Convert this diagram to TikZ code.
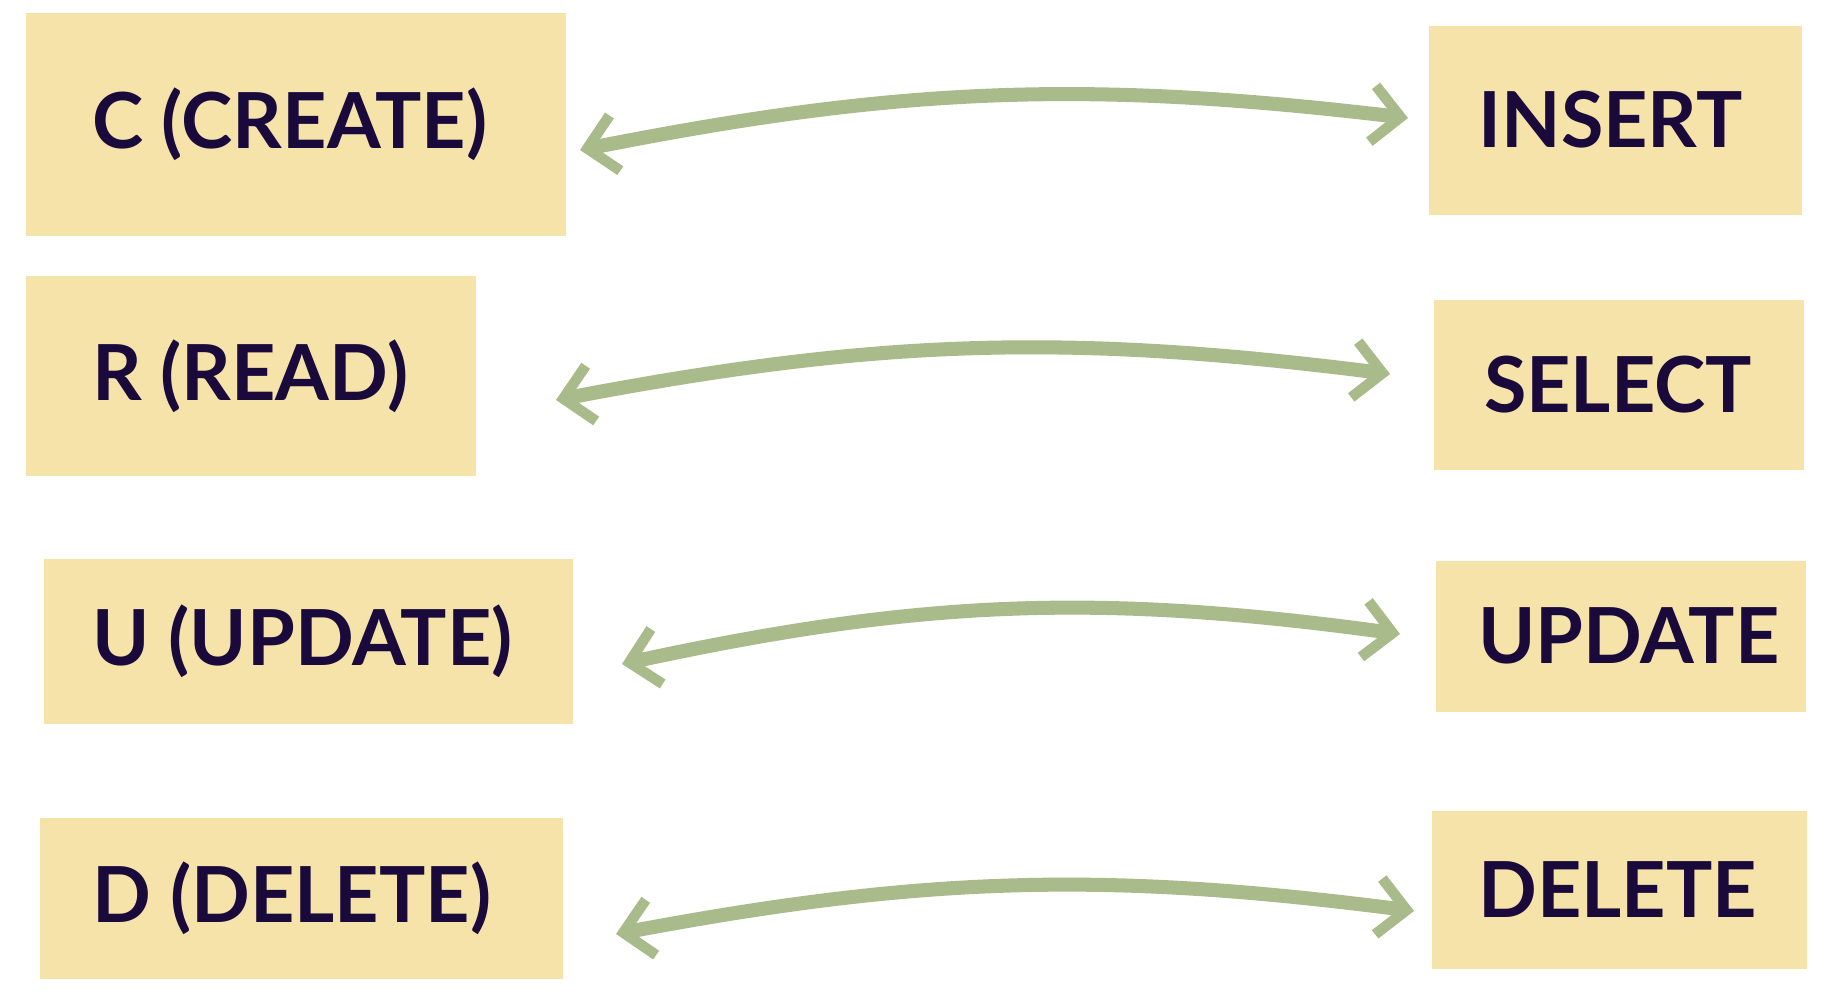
\documentclass[tikz,border=0pt]{standalone}
\usepackage{fontspec}
\setmainfont{Lato}
\usetikzlibrary{arrows.meta,positioning,calc}
\definecolor{boxfill}{HTML}{F5E3AA}
\definecolor{ink}{HTML}{1A0A3C}
\definecolor{leaf}{HTML}{A9BB8A}
\tikzset{
block/.style = {fill=boxfill, rectangle, inner sep=0pt},
word/.style  = {anchor=west, text=ink, font=\fontsize{44}{50}\selectfont\bfseries, inner sep=0pt},
link/.style  = {draw=leaf, line width=8pt, line cap=round,
                {Straight Barb[length=16pt,width=32pt,line width=6pt]}-{Straight Barb[length=16pt,width=32pt,line width=6pt]}}
}
\begin{document}
\begin{tikzpicture}[x=0.02cm,y=-0.02cm]
                \useasboundingbox (0,0) rectangle (1833,1005);

                % left column
                \node [block, minimum width=540*0.02cm, minimum height=223*0.02cm] (create) at (296,124) {};
                \node [block, minimum width=450*0.02cm, minimum height=200*0.02cm] (read) at (251,376) {};
                \node [block, minimum width=529*0.02cm, minimum height=165*0.02cm] (update) at (308,641) {};
                \node [block, minimum width=523*0.02cm, minimum height=161*0.02cm] (delete) at (301,898) {};
                \node [word] (tc) at ($(create.west)+(66,0)$) {C (CREATE)};
                \node [word] (tr) at ($(read.west)+(66,0)$) {R (READ)};
                \node [word] (tu) at ($(update.west)+(49,0)$) {U (UPDATE)};
                \node [word] (td) at ($(delete.west)+(53,0)$) {D (DELETE)};

                % right column
                \node [block, minimum width=373*0.02cm, minimum height=189*0.02cm] (insert) at (1615,120) {};
                \node [block, minimum width=370*0.02cm, minimum height=170*0.02cm] (select) at (1619,385) {};
                \node [block, minimum width=370*0.02cm, minimum height=151*0.02cm] (sqlupdate) at (1621,636) {};
                \node [block, minimum width=375*0.02cm, minimum height=158*0.02cm] (sqldelete) at (1619,890) {};
                \node [word] (ti) at ($(insert.west)+(50,0)$) {INSERT};
                \node [word] (ts) at ($(select.west)+(50,0)$) {SELECT};
                \node [word] (tsu) at ($(sqlupdate.west)+(42,0)$) {UPDATE};
                \node [word] (tsd) at ($(sqldelete.west)+(47,0)$) {DELETE};

                % arrows
                \coordinate (a1) at (580,150); \coordinate (b1) at (1408,118);
                \coordinate (a2) at (556,400); \coordinate (b2) at (1390,374);
                \coordinate (a3) at (622,664); \coordinate (b3) at (1400,634);
                \coordinate (a4) at (616,934); \coordinate (b4) at (1414,911);
                \draw [link] (a1) to [bend left=9] (b1);
                \draw [link] (a2) to [bend left=9] (b2);
                \draw [link] (a3) to [bend left=10] (b3);
                \draw [link] (a4) to [bend left=9] (b4);
\end{tikzpicture}
\end{document}
